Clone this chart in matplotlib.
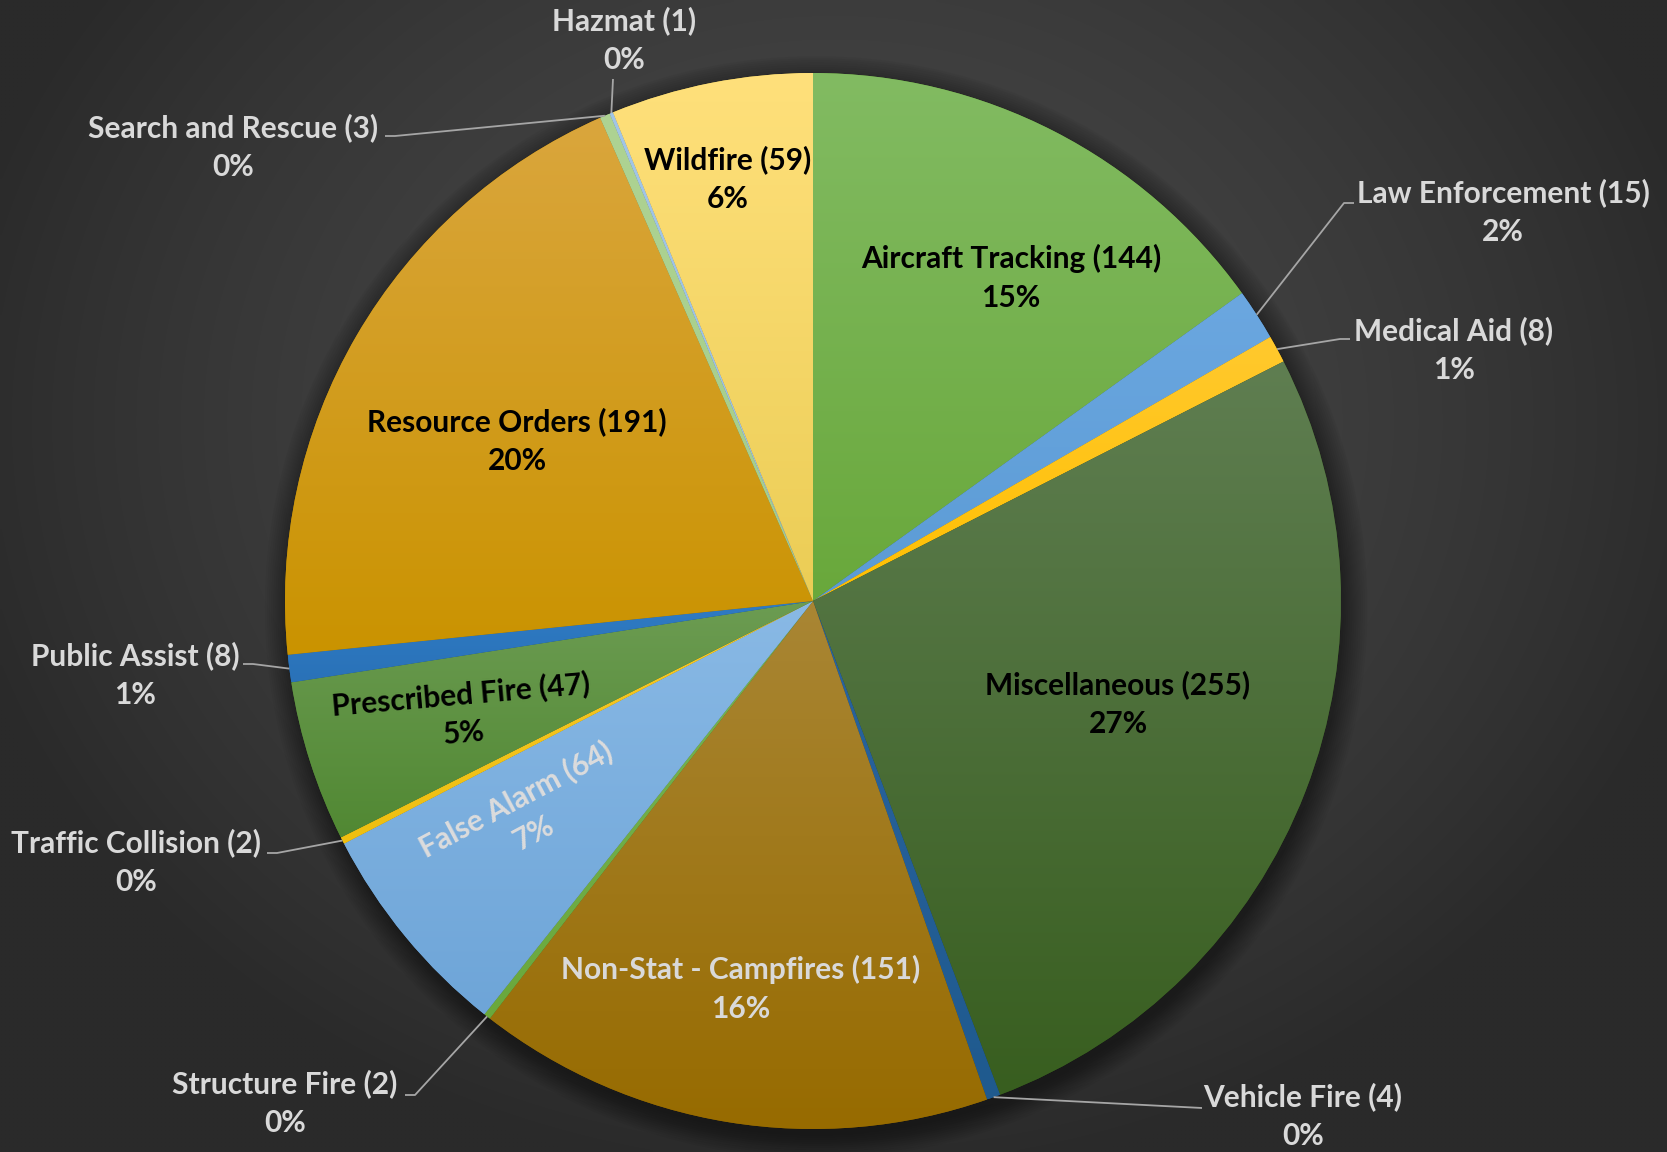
import numpy as np
import matplotlib.pyplot as plt
from matplotlib.colors import to_rgb
from matplotlib.patches import Circle

plt.rcParams['font.family'] = ['Lato', 'DejaVu Sans']

# data, clockwise from 12 o'clock
categories = ['Aircraft Tracking', 'Law Enforcement', 'Medical Aid', 'Miscellaneous',
              'Vehicle Fire', 'Non-Stat - Campfires', 'Structure Fire', 'False Alarm',
              'Traffic Collision', 'Prescribed Fire', 'Public Assist', 'Resource Orders',
              'Search and Rescue', 'Hazmat', 'Wildfire']
counts = [144, 15, 8, 255, 4, 151, 2, 64, 2, 47, 8, 191, 3, 1, 59]

# slice colours (top of slice, bottom of slice)
tops = ['#82bb62', '#6ba7e0', '#ffc92e', '#5f7e51', '#2a64a0', '#a98634', '#78b456',
        '#89b9e5', '#f7c82a', '#6c9c52', '#2f7bc4', '#daa63d', '#aed393', '#a2c6e8', '#ffe07b']
bottoms = ['#69a83b', '#5b9bd5', '#ffbf00', '#385e1f', '#1f5a8e', '#976b00', '#6aa83c',
           '#6ea5d8', '#efbf10', '#518833', '#2a72b8', '#ca9300', '#a5cd89', '#99bfe3', '#ebcd55']

W, H = 1667, 1152
CX, CY, R = 813, 601, 528


def to_data(x, y):
    return (x - CX) / R, (CY - y) / R


fig = plt.figure(figsize=(W / 100, H / 100), dpi=100)
ax = fig.add_axes([0, 0, 1, 1])

xlim = (-CX / R, (W - CX) / R)
ylim = (-(H - CY) / R, CY / R)

# radial background
yy, xx = np.mgrid[0:H:4, 0:W:4]
d = np.sqrt(((xx - 833) / 900.0) ** 2 + ((yy - 420) / 760.0) ** 2)
d = np.clip(d, 0, 1) ** 1.6
c0, c1 = np.array(to_rgb('#484848')), np.array(to_rgb('#2a2a2a'))
bg = c0 * (1 - d[..., None]) + c1 * d[..., None]
ax.imshow(bg, extent=[xlim[0], xlim[1], ylim[0], ylim[1]], origin='upper',
          aspect='auto', zorder=0, interpolation='bilinear')

# soft shadow
for k in range(12):
    ax.add_patch(Circle((0.006, -0.012), 1.0 + 0.004 * k, color='black',
                        alpha=0.035, lw=0, zorder=0.5))

wedges, _ = ax.pie(counts, startangle=90, counterclock=False, radius=1, center=(0, 0),
                   colors=bottoms, wedgeprops=dict(linewidth=0.4, edgecolor='#00000030'))

for w, top, bot in zip(wedges, tops, bottoms):
    th = np.radians(np.linspace(w.theta1, w.theta2, 60))
    xs = np.concatenate([[0], np.cos(th)])
    ys = np.concatenate([[0], np.sin(th)])
    g = np.linspace(0, 1, 200)[:, None, None]
    img = np.array(to_rgb(top)) * (1 - g) + np.array(to_rgb(bot)) * g
    im = ax.imshow(img, extent=[xs.min(), xs.max(), ys.min(), ys.max()], origin='upper',
                   aspect='auto', zorder=1.5, interpolation='bilinear')
    im.set_clip_path(w)

total = sum(counts)
texts = [f'{c} ({n})\n{round(100 * n / total)}%' for c, n in zip(categories, counts)]

# inside labels: pixel centre, rotation, colour
inside = {
    'Aircraft Tracking': ((1011, 278), 0, 'black'),
    'Miscellaneous': ((1118, 704), 0, 'black'),
    'Non-Stat - Campfires': ((741, 989), 0, '#d9d9d9'),
    'False Alarm': ((525, 816), 28, '#dcdcdc'),
    'Prescribed Fire': ((462, 714), 5, 'black'),
    'Resource Orders': ((517, 441), 0, 'black'),
    'Wildfire': ((728, 179), 0, 'black'),
}

# outside labels: pixel centre, leader end near label, tick direction
outside = {
    'Law Enforcement': ((1503, 212), (1344, 203), 1),
    'Medical Aid': ((1454, 350), (1340, 339), 1),
    'Vehicle Fire': ((1303, 1116), (1202, 1108), 0),
    'Structure Fire': ((285, 1103), (415, 1095), -1),
    'Traffic Collision': ((136, 862), (277, 853), -1),
    'Public Assist': ((135, 675), (253, 664), -1),
    'Search and Rescue': ((233, 147), (395, 136), -1),
    'Hazmat': ((624, 40), (613, 79), 0),
}

fs = 21.5
for w, cat, txt in zip(wedges, categories, texts):
    if cat in inside:
        (px, py), rot, col = inside[cat]
        x, y = to_data(px, py)
        ax.text(x, y, txt, ha='center', va='center', rotation=rot, rotation_mode='anchor',
                fontsize=fs, fontweight='bold', color=col, linespacing=1.45, zorder=3)
    else:
        (px, py), (ex, ey), tick = outside[cat]
        x, y = to_data(px, py)
        ax.text(x, y, txt, ha='center', va='center', fontsize=fs, fontweight='bold',
                color='#d9d9d9', linespacing=1.45, zorder=3)
        mid = np.radians((w.theta1 + w.theta2) / 2)
        ax0, ay0 = np.cos(mid), np.sin(mid)
        lx, ly = to_data(ex, ey)
        xs_l = [ax0, lx]
        ys_l = [ay0, ly]
        if tick:
            tx, _ = to_data(ex + tick * 10, ey)
            xs_l.append(tx)
            ys_l.append(ly)
        ax.plot(xs_l, ys_l, color='#a6a6a6', lw=1.3, zorder=2.5, solid_capstyle='butt')

ax.set_xlim(*xlim)
ax.set_ylim(*ylim)
ax.set_aspect('auto')
ax.axis('off')

fig.savefig('out.png', dpi=100)
